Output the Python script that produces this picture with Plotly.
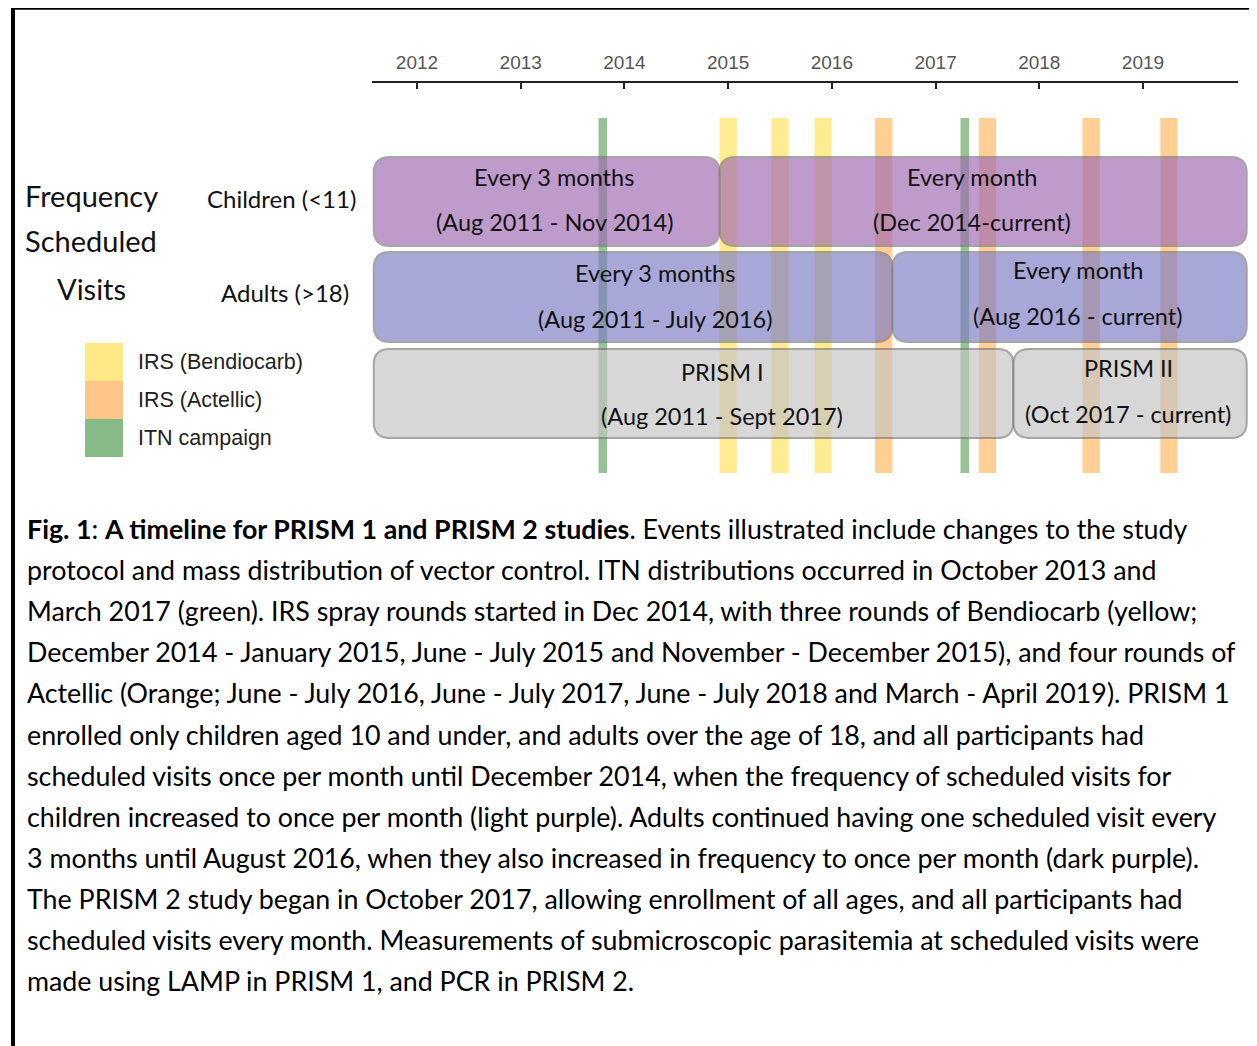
import plotly.graph_objects as go

# ---------------- data ----------------
years = [2012, 2013, 2014, 2015, 2016, 2017, 2018, 2019]
year_labels = [str(y) for y in years]

# event bars (start, in decimal years) and their durations
itn_start = [2013.75, 2017.24]
itn_len = 1 / 12
bendiocarb_start = [2014.917, 2015.417, 2015.833]
actellic_start = [2016.417, 2017.417, 2018.417, 2019.167]
irs_len = 2 / 12

# period boxes: rows
children_start = [2011.583, 2014.917]
children_end = [2014.917, 2020.0]
children_l1 = ["Every 3 months", "Every month"]
children_l2 = ["(Aug 2011 - Nov 2014)", "(Dec 2014-current)"]

adults_start = [2011.583, 2016.583]
adults_end = [2016.583, 2020.0]
adults_l1 = ["Every 3 months", "Every month"]
adults_l2 = ["(Aug 2011 - July 2016)", "(Aug 2016 - current)"]

prism_start = [2011.583, 2017.75]
prism_end = [2017.75, 2020.0]
prism_l1 = ["PRISM I", "PRISM II"]
prism_l2 = ["(Aug 2011 - Sept 2017)", "(Oct 2017 - current)"]

legend_labels = ["IRS (Bendiocarb)", "IRS (Actellic)", "ITN campaign"]

caption_lines = [
    "<b>Fig. 1</b>: <b>A timeline for PRISM 1 and PRISM 2 studies</b>. Events illustrated include changes to the study",
    "protocol and mass distribution of vector control. ITN distributions occurred in October 2013 and",
    "March 2017 (green). IRS spray rounds started in Dec 2014, with three rounds of Bendiocarb (yellow;",
    "December 2014 - January 2015, June - July 2015 and November - December 2015), and four rounds of",
    "Actellic (Orange; June - July 2016, June - July 2017, June - July 2018 and March - April 2019). PRISM 1",
    "enrolled only children aged 10 and under, and adults over the age of 18, and all participants had",
    "scheduled visits once per month until December 2014, when the frequency of scheduled visits for",
    "children increased to once per month (light purple). Adults continued having one scheduled visit every",
    "3 months until August 2016, when they also increased in frequency to once per month (dark purple).",
    "The PRISM 2 study began in October 2017, allowing enrollment of all ages, and all participants had",
    "scheduled visits every month. Measurements of submicroscopic parasitemia at scheduled visits were",
    "made using LAMP in PRISM 1, and PCR in PRISM 2.",
]

# ---------------- layout constants ----------------
W, H = 1257, 1046
OFF = 8                      # page body margin
FW, FH = W - OFF, H - OFF    # figure size
PX0, PPY = 417.0, (1143.0 - 417.0) / 7.0


def xd(p):
    return 2012 + (p - PX0) / PPY


def xp(p):
    return (p - OFF) / FW


def yp(p):
    return 1 - (p - OFF) / FH


CAL = "Lato, Carlito, Calibri, sans-serif"
ARIAL = "Liberation Sans, Arial, sans-serif"

YELLOW = "#FFEB92"
ORANGE = "#FFCF93"
GREEN = "#97C397"

shapes = []
annotations = []

# event bars (drawn first, below boxes)
BAR_Y0, BAR_Y1 = 118, 473
for s in itn_start:
    shapes.append(dict(type="rect", xref="x", yref="y", x0=s, x1=s + itn_len, y0=BAR_Y0, y1=BAR_Y1,
                       fillcolor=GREEN, line=dict(width=0), layer="above"))
for s in bendiocarb_start:
    shapes.append(dict(type="rect", xref="x", yref="y", x0=s, x1=s + irs_len, y0=BAR_Y0, y1=BAR_Y1,
                       fillcolor=YELLOW, line=dict(width=0), layer="above"))
for s in actellic_start:
    shapes.append(dict(type="rect", xref="x", yref="y", x0=s, x1=s + irs_len, y0=BAR_Y0, y1=BAR_Y1,
                       fillcolor=ORANGE, line=dict(width=0), layer="above"))


def rounded(x0, x1, y0, y1, r=16):
    rx = r / PPY
    return (f"M {x0 + rx},{y0} L {x1 - rx},{y0} Q {x1},{y0} {x1},{y0 + r} "
            f"L {x1},{y1 - r} Q {x1},{y1} {x1 - rx},{y1} L {x0 + rx},{y1} "
            f"Q {x0},{y1} {x0},{y1 - r} L {x0},{y0 + r} Q {x0},{y0} {x0 + rx},{y0} Z")


rows = [
    (children_start, children_end, children_l1, children_l2, 157, 246, "#A16BB2",
     [(554, 177, 222), (972, 177, 222)]),
    (adults_start, adults_end, adults_l1, adults_l2, 252, 342, "#7D7DC5",
     [(655, 273, 319), (1078, 270, 316)]),
    (prism_start, prism_end, prism_l1, prism_l2, 349, 438, "#C4C4C4",
     [(722, 372, 416), (1128, 368, 414)]),
]

for starts, ends, l1s, l2s, y0, y1, col, tpos in rows:
    for s, e, t1, t2, (tx, ty1, ty2) in zip(starts, ends, l1s, l2s, tpos):
        shapes.append(dict(type="path", xref="x", yref="y", path=rounded(s, e, y0, y1),
                           fillcolor=col, opacity=0.67, line=dict(color="#7A7A7A", width=2),
                           layer="above"))
        for t, ty in ((t1, ty1), (t2, ty2)):
            annotations.append(dict(text=t, xref="paper", yref="paper", x=xp(tx), y=yp(ty),
                                    xanchor="center", yanchor="middle", showarrow=False,
                                    font=dict(family=CAL, size=23.5, color="#111111")))

# left labels
for t, cx, cy, sz in [("Frequency", 91, 196, 29), ("Scheduled", 91, 241, 29), ("Visits", 91, 288, 29),
                      ("Children (<11)", 281, 198, 24), ("Adults (>18)", 285, 292, 24)]:
    annotations.append(dict(text=t, xref="paper", yref="paper", x=xp(cx), y=yp(cy),
                            xanchor="center", yanchor="middle", showarrow=False,
                            font=dict(family=CAL, size=sz, color="#111111")))

# legend
leg_cols = ["#FFE886", "#FFC688", "#88BA88"]
for i, (lab, c) in enumerate(zip(legend_labels, leg_cols)):
    top = 343 + 38 * i
    shapes.append(dict(type="rect", xref="paper", yref="paper", x0=xp(85), x1=xp(123),
                       y0=yp(top + 38), y1=yp(top), fillcolor=c, line=dict(width=0)))
    annotations.append(dict(text=lab, xref="paper", yref="paper", x=xp(136), y=yp(top + 19),
                            xanchor="left", yanchor="middle", showarrow=False,
                            font=dict(family=ARIAL, size=21.5, color="#222222")))

# caption
for i, line in enumerate(caption_lines):
    cy = 529 + 41.1 * i
    annotations.append(dict(text=line, xref="paper", yref="paper", x=xp(25), y=yp(cy),
                            xanchor="left", yanchor="middle", showarrow=False, align="left",
                            font=dict(family=CAL, size=26.8, color="#000000")))

# frame
shapes.append(dict(type="line", xref="paper", yref="paper", x0=xp(11), x1=1.0, y0=1.0, y1=1.0,
                   line=dict(color="black", width=3.5)))
shapes.append(dict(type="line", xref="paper", yref="paper", x0=xp(13), x1=xp(13), y0=1.0, y1=0,
                   line=dict(color="black", width=4)))

fig = go.Figure()
# invisible traces to register the main axes and the top timeline axis
fig.add_trace(go.Scatter(x=[years[0]], y=[-10], mode="markers", marker=dict(opacity=0),
                         hoverinfo="skip", showlegend=False))
fig.add_trace(go.Scatter(x=years, y=[-10] * len(years), xaxis="x2", yaxis="y", mode="markers",
                         marker=dict(opacity=0), hoverinfo="skip", showlegend=False))

fig.update_layout(
    width=FW, height=FH, autosize=False,
    margin=dict(l=0, r=0, t=0, b=0),
    paper_bgcolor="white", plot_bgcolor="rgba(0,0,0,0)",
    xaxis=dict(domain=[0, 1], range=[xd(OFF), xd(OFF + FW)], visible=False, fixedrange=True),
    yaxis=dict(domain=[0, 1], range=[OFF + FH, OFF], visible=False, fixedrange=True),
    xaxis2=dict(domain=[xp(372), xp(1238)], range=[xd(372), xd(1238)], anchor="free",
                position=yp(82), side="top", showline=True, linecolor="#222222", linewidth=2,
                ticks="inside", ticklen=6, tickwidth=2, tickcolor="#222222",
                tickvals=years, ticktext=year_labels, ticklabelstandoff=4,
                tickfont=dict(family=ARIAL, size=19, color="#555555"),
                showgrid=False, zeroline=False, fixedrange=True),
    shapes=shapes, annotations=annotations, showlegend=False,
)

fig.write_html("out.html")
